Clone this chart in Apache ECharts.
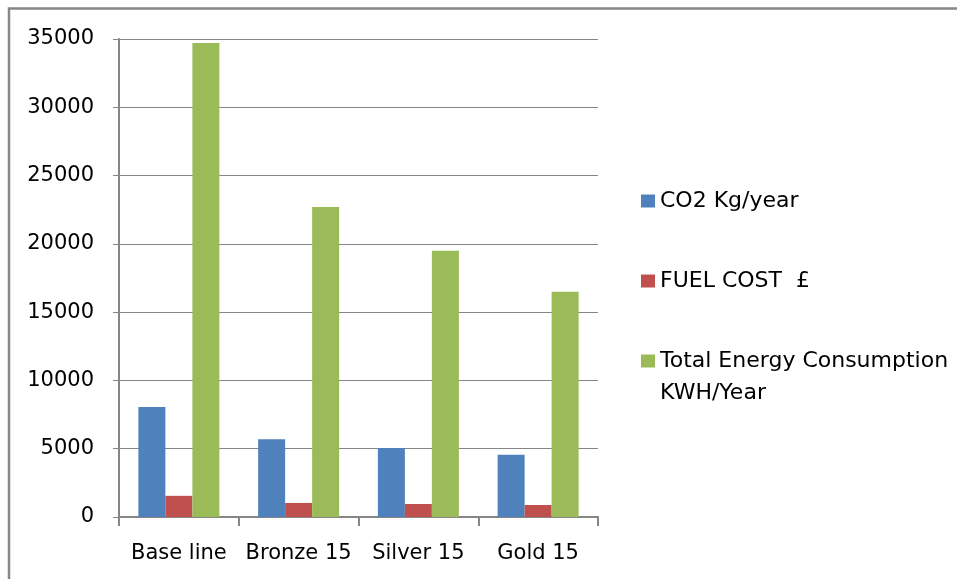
<!DOCTYPE html>
<html>
<head>
<meta charset="utf-8">
<title>chart</title>
<script src="https://cdn.jsdelivr.net/npm/echarts@6/dist/echarts.min.js"></script>
<style>
    html, body {margin:0; padding:0; background:#fff;}
    #main {width:957px; height:579px;}
</style>
</head>
<body>
<div id="main"></div>
<script>
// x轴分类
var categories = ['Base line', 'Bronze 15', 'Silver 15', 'Gold 15'];
// 系列名称
var seriesNames = ['CO2 Kg/year', 'FUEL COST  £', 'Total Energy Consumption KWH/Year'];
// 各系列数据
var co2 = [8050, 5700, 5050, 4550];
var fuelCost = [1550, 1030, 950, 880];
var energy = [34700, 22700, 19500, 16500];
var colors = ['#4F81BD', '#C0504D', '#9BBB59'];

var axisColor = '#868686';
var font = 'DejaVu Sans';

function legendOf(name, top){
    return {
        orient: 'vertical',
        left: 641,
        top: top,
        padding: 0,
        itemWidth: 14,
        itemHeight: 13,
        icon: 'rect',
        selectedMode: false,
        textStyle: {fontFamily: font, fontSize: 22, color: '#000', lineHeight: 32},
        // 第三项换行, 首行与图标对齐
        formatter: function(n){
            return n === seriesNames[2] ? '\nTotal Energy Consumption\nKWH/Year' : n;
        },
        data: [name]
    };
}

var option = {
    animation: false,
    color: colors,
    grid: {left: 119, right: 359, top: 39, bottom: 62},
    graphic: [
        {type: 'polyline', shape: {points: [[9, 579], [9, 8.5], [957, 8.5]]}, style: {fill: 'none', stroke: '#878787', lineWidth: 2.5}, silent: true}
    ],
    legend: [
        legendOf(seriesNames[0], 185),
        legendOf(seriesNames[1], 265),
        legendOf(seriesNames[2], 313)
    ],
    xAxis: {
        type: 'category',
        data: categories,
        axisLine: {lineStyle: {color: axisColor, width: 2}},
        axisTick: {show: true, length: 9, interval: 0, lineStyle: {color: axisColor, width: 2}},
        axisLabel: {fontFamily: font, fontSize: 21, color: '#000', margin: 26, interval: 0}
    },
    yAxis: {
        type: 'value',
        min: 0,
        max: 35000,
        interval: 5000,
        axisLine: {show: true, lineStyle: {color: axisColor, width: 2}},
        axisTick: {show: true, length: 6, lineStyle: {color: axisColor, width: 1}},
        splitLine: {lineStyle: {color: axisColor, width: 1}},
        axisLabel: {fontFamily: font, fontSize: 21, color: '#000', margin: 25, formatter: function(v){ return String(v); }}
    },
    series: [
        {name: seriesNames[0], type: 'bar', barWidth: 27, barGap: 0, data: co2},
        {name: seriesNames[1], type: 'bar', barWidth: 27, barGap: 0, data: fuelCost},
        {name: seriesNames[2], type: 'bar', barWidth: 27, barGap: 0, data: energy}
    ]
};
echarts.init(document.getElementById('main')).setOption(option);
</script>
</body>
</html>
